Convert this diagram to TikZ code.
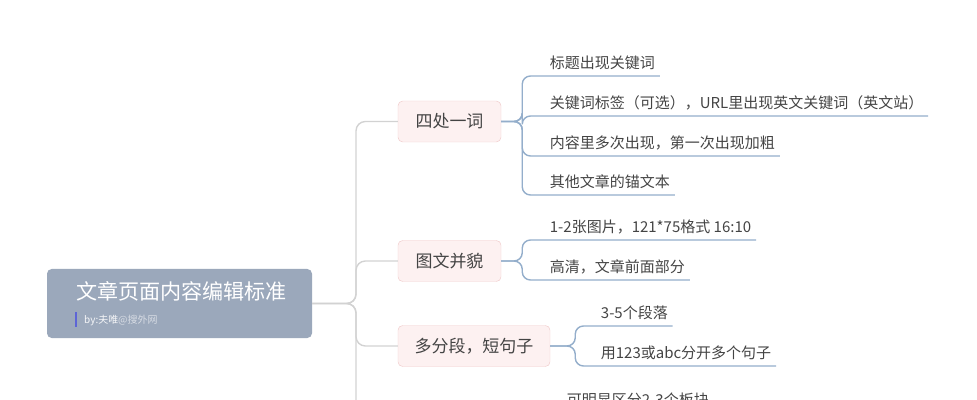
\documentclass[tikz,border=0pt]{standalone}
\usepackage{fontspec}
\setmainfont{Noto Sans CJK SC}
\usepackage{tikz}
\definecolor{rootfill}{HTML}{9BA8BB}
\definecolor{brfill}{HTML}{FDF1F1}
\definecolor{brdraw}{HTML}{F0CACA}
\definecolor{leafblue}{HTML}{94AECB}
\definecolor{trunkgray}{HTML}{D2D2D2}
\definecolor{leaftext}{HTML}{444444}
\tikzstyle{rootbox} = [fill=rootfill, rounded corners=4pt, minimum width=265*0.03cm, minimum height=69*0.03cm, inner sep=0pt]
\tikzstyle{branchbox} = [draw=brdraw, fill=brfill, rounded corners=4pt, minimum height=41*0.03cm, inner xsep=8pt, font=\fontsize{14.5}{16}\selectfont, text=leaftext]
\tikzstyle{leaf} = [anchor=south west, inner xsep=4pt, inner ysep=5pt, font=\fontsize{12.8}{14}\selectfont, text=leaftext]
\tikzstyle{leafline} = [draw=leafblue, line width=1.2pt, rounded corners=7pt]
\tikzstyle{trunk} = [draw=trunkgray, line width=1.2pt, rounded corners=8pt]
\begin{document}
\begin{tikzpicture}[x=0.03cm,y=-0.03cm]
\useasboundingbox (0,0) rectangle (977,400);
\clip (0,0) rectangle (977,400);
% root
\node [rootbox] (root) at (179.5,303.5) {};
\node [anchor=west, text=white, font=\fontsize{18}{20}\selectfont] (title) at (72,291) {文章页面内容编辑标准};
\node [anchor=west, font=\fontsize{8.5}{10}\selectfont, inner xsep=0pt] (sub) at (84,320) {\textcolor{white!90!rootfill}{by:夫唯}\textcolor{white!60!rootfill}{@搜外网}};
\draw [draw=blue!40!rootfill, line width=1.2pt] (76,312) -- (76,327);
% branches
\node [branchbox, minimum width=103*0.03cm] (b1) at (449.5,121.5) {四处一词};
\node [branchbox, minimum width=103*0.03cm] (b2) at (449.5,261) {图文并貌};
\node [branchbox, minimum width=152*0.03cm] (b3) at (474,346) {多分段，短句子};
\coordinate (b4) at (398,440);
\draw [trunk] (root.east) -- (356,303.5) |- (b1.west);
\draw [trunk] (root.east) -- (356,303.5) |- (b2.west);
\draw [trunk] (root.east) -- (356,303.5) |- (b3.west);
\draw [trunk] (root.east) -- (356,303.5) |- (b4);
% leaves of b1
\node [leaf] (l11) at (545,76) {标题出现关键词};
\node [leaf] (l12) at (545,116) {关键词标签（可选），URL里出现英文关键词（英文站）};
\node [leaf] (l13) at (545,156) {内容里多次出现，第一次出现加粗};
\node [leaf] (l14) at (545,195) {其他文章的锚文本};
\foreach \n in {l11,l12,l13,l14}
  \draw [leafline] (b1.east) -- ++(21,0) |- (\n.south west) -- (\n.south east);
% leaves of b2
\node [leaf] (l21) at (545,240) {1-2张图片，121*75格式 16:10};
\node [leaf] (l22) at (545,280) {高清，文章前面部分};
\foreach \n in {l21,l22}
  \draw [leafline] (b2.east) -- ++(21,0) |- (\n.south west) -- (\n.south east);
% leaves of b3
\node [leaf] (l31) at (596,326) {3-5个段落};
\node [leaf] (l32) at (596,366) {用123或abc分开多个句子};
\foreach \n in {l31,l32}
  \draw [leafline] (b3.east) -- ++(25,0) |- (\n.south west) -- (\n.south east);
% cut-off leaf
\node [leaf] (l41) at (562,413) {可明显区分2-3个板块};
\end{tikzpicture}
\end{document}
